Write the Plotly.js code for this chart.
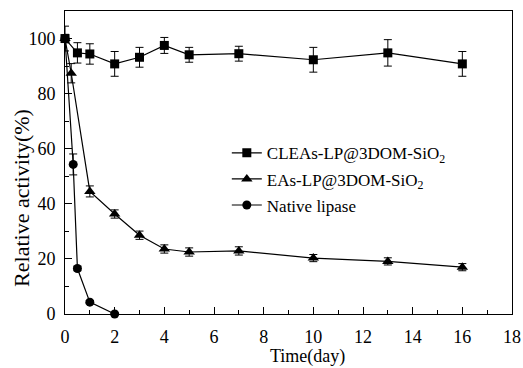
<!DOCTYPE html>
<html>
<head>
<meta charset="utf-8">
<script src="https://cdn.plot.ly/plotly-3.0.1.min.js"></script>
<style>html,body{margin:0;padding:0;background:#fff;}#chart{width:523px;height:368px;}</style>
</head>
<body>
<div id="chart"></div>
<script>
const cleaX = [0, 0.5, 1, 2, 3, 4, 5, 7, 10, 13, 16];
const cleaY = [100, 94.8, 94.4, 90.8, 93.2, 97.5, 94.1, 94.5, 92.3, 94.8, 90.8];
const cleaErr = [4.5, 3.7, 3.7, 4.5, 3.6, 2.9, 2.7, 2.7, 4.5, 4.8, 4.5];

const easX = [0, 0.25, 1, 2, 3, 4, 5, 7, 10, 13, 16];
const easY = [100, 87.4, 44.5, 36.3, 28.6, 23.6, 22.5, 22.9, 20.3, 19.1, 17.0];
const easErr = [1.5, 3.5, 2.0, 1.5, 1.5, 1.5, 1.5, 1.5, 1.3, 1.3, 1.3];

const natX = [0, 0.33, 0.5, 1, 2];
const natY = [100, 54.3, 16.5, 4.3, 0];
const natErr = [1.5, 3.8, 0.8, 0.6, 0.3];

const xTitle = 'Time(day)';
const yTitle = 'Relative activity(%)';

const serif = '"Liberation Serif", "Times New Roman", "DejaVu Serif", serif';

function tr(x, y, e, name, sym, size, grp) {
  return {
    x: x, y: y, name: name, type: 'scatter', mode: 'lines+markers', legendgroup: grp,
    line: {color: '#000', width: 1.2},
    marker: {color: '#000', symbol: sym, size: size},
    error_y: {type: 'data', array: e, visible: true, color: '#000', thickness: 1, width: 4},
    cliponaxis: false
  };
}

const data = [
  tr(cleaX, cleaY, cleaErr, 'CLEAs-LP@3DOM-SiO<sub>2</sub>', 'square', 9, 'a'),
  tr(easX, easY, easErr, 'EAs-LP@3DOM-SiO<sub>2</sub>', 'triangle-up', 10, 'b'),
  tr(natX, natY, natErr, 'Native lipase', 'circle', 9, 'c')
];

const layout = {
  width: 523, height: 368,
  margin: {l: 65, r: 11, t: 11, b: 54},
  paper_bgcolor: '#fff', plot_bgcolor: '#fff',
  font: {family: serif, size: 17, color: '#000'},
  showlegend: true,
  legend: {x: 0.362, y: 0.59, xanchor: 'left', yanchor: 'top', bgcolor: 'rgba(0,0,0,0)',
           font: {family: serif, size: 17, color: '#000'}, traceorder: 'grouped', tracegroupgap: 1},
  xaxis: {
    range: [0, 18], tickvals: [0,2,4,6,8,10,12,14,16,18],
    showgrid: false, zeroline: false, showline: true, linecolor: '#000', linewidth: 1, mirror: true,
    ticks: 'inside', ticklen: 7, tickcolor: '#000', ticklabelstandoff: 6,
    minor: {dtick: 1, ticks: 'inside', ticklen: 4, tickcolor: '#000'},
    tickfont: {family: serif, size: 18}
  },
  yaxis: {
    range: [0, 110], tickvals: [0,20,40,60,80,100],
    showgrid: false, zeroline: false, showline: true, linecolor: '#000', linewidth: 1, mirror: true,
    ticks: 'inside', ticklen: 7, tickcolor: '#000', ticklabelstandoff: 5,
    minor: {dtick: 10, ticks: 'inside', ticklen: 4, tickcolor: '#000'},
    tickfont: {family: serif, size: 18}
  },
  annotations: [
    {text: xTitle, xref: 'paper', yref: 'paper', xanchor: 'center', yanchor: 'bottom',
     showarrow: false, borderpad: 0, font: {family: serif, size: 18, color: '#000'}},
    {text: yTitle, xref: 'paper', yref: 'paper', xanchor: 'center', yanchor: 'middle',
     textangle: -90, showarrow: false, font: {family: serif, size: 22, color: '#000'}}
  ]
};
// x title centred near x≈307px with its bottom at y≈368px; y title centred near x≈21px, y≈198px
layout.annotations[0].x = (307 - 65) / 446;
layout.annotations[0].y = (314 - 368) / 303;
layout.annotations[1].x = (21 - 65) / 446;
layout.annotations[1].y = (314 - 198) / 303;

Plotly.newPlot('chart', data, layout, {staticPlot: true, displayModeBar: false});
</script>
</body>
</html>
